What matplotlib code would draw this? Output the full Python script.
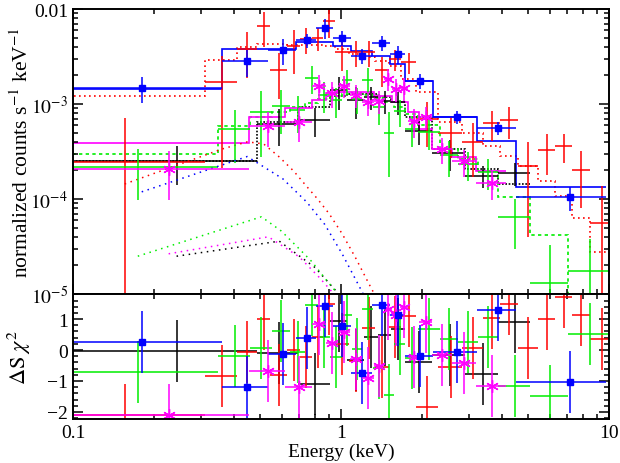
import numpy as np
import matplotlib.pyplot as plt
from matplotlib.ticker import FuncFormatter, MultipleLocator, NullFormatter

plt.rcParams['font.family'] = ['Liberation Serif', 'DejaVu Serif']
plt.rcParams['mathtext.fontset'] = 'stix'
plt.rcParams['font.size'] = 14

# ---- data (keV, counts/s/keV) ----
# black
blk_edges = [0.001, 0.486, 0.691, 0.910, 1.052, 1.218, 1.374, 1.537, 1.734, 2.186, 2.90, 3.85, 5.07]
blk_rate = [2.5e-4, 6.2e-4, 6.8e-4, 1.40e-3, 1.10e-3, 1.19e-3, 1.08e-3, 1.05e-3, 5.2e-4, 3.06e-4, 1.75e-4, 1.88e-4]
blk_err = [1.1e-4, 2.6e-4, 2.3e-4, 5.4e-4, 4e-4, 3.3e-4, 3e-4, 2.8e-4, 1.5e-4, 1.1e-4, 4.5e-5, 5e-5]
blk_model = [2.5e-4, 6.5e-4, 9.3e-4, 1.22e-3, 1.28e-3, 1.28e-3, 1.19e-3, 1.05e-3, 7.3e-4, 3.36e-4, 2.07e-4, 1.44e-4]
blk_resid = [-0.03, -0.1, -1.1, 0.94, -0.32, 0.42, 0.48, 0.68, -0.39, -0.16, -0.77, 0.9]
blk_comp = [2.5e-5, 3.6e-5, 1.9e-5, 1.0e-5, 5.5e-6]

# red
red_edges = [0.001, 0.311, 0.409, 0.486, 0.543, 0.629, 0.703, 0.779, 0.857, 0.950, 1.071, 1.197, 1.339,
             1.510, 1.674, 1.905, 2.30, 2.83, 3.39, 3.92, 4.57, 5.43, 6.29, 7.28, 8.50, 10.26]
red_rate = [2.45e-4, 1.71e-3, 3.79e-3, 6.62e-3, 2.28e-3, 4.08e-3, 4.83e-3, 4.95e-3, 7.47e-3, 3.53e-3,
            3.53e-3, 3.53e-3, 2.3e-3, 2.98e-3, 2.77e-3, 7.0e-4, 5.0e-4, 4.0e-4, 6.3e-4, 6.8e-4,
            2.2e-4, 3.3e-4, 3.6e-4, 2.0e-4, 5.6e-5]
red_err = [4.6e-4, 1.5e-3, 1.9e-3, 2.6e-3, 1.15e-3, 2.0e-3, 1.5e-3, 1.3e-3, 2.5e-3, 1.3e-3, 1.1e-3,
           1.1e-3, 8e-4, 7.5e-4, 7e-4, 3.5e-4, 2.3e-4, 2.3e-4, 2.2e-4, 2.5e-4, 1.8e-4, 1.5e-4,
           1.2e-4, 1.2e-4, 8e-5]
red_model = [1.22e-3, 2.91e-3, 3.98e-3, 4.28e-3, 4.28e-3, 4.18e-3, 4.18e-3, 4.18e-3, 4.08e-3, 3.79e-3,
             3.36e-3, 3.13e-3, 2.84e-3, 2.52e-3, 1.84e-3, 1.34e-3, 6.5e-4, 4.9e-4, 3.6e-4, 2.85e-4,
             2.2e-4, 1.55e-4, 1.08e-4, 6.3e-5, 2.8e-5]
red_resid = [-2.1, -0.84, -0.06, 1.0, -0.8, 0.0, -0.22, 0.42, 1.5, 0.2, -0.35, 0.7, -0.55, 0.74, 1.1,
             -1.84, -0.55, 0.06, 1.03, 1.48, 0.06, 1.0, 1.7, 1.13, 0.35]
red_comp = [1.44e-4, 3.36e-4, 4.0e-4, 3.8e-4, 2.8e-4, 1.97e-4, 1.38e-4, 1.0e-4, 7e-5, 4.3e-5, 2.4e-5,
            1.3e-5, 7e-6]

# green
grn_edges = [0.001, 0.348, 0.457, 0.553, 0.645, 0.734, 0.821, 0.910, 1.009, 1.099, 1.197, 1.316, 1.446,
             1.577, 1.734, 1.937, 2.34, 2.73, 3.25, 3.85, 5.07, 7.03, 10.0]
grn_rate = [2.17e-4, 5.5e-4, 8.2e-4, 9.5e-4, 8.6e-4, 1.88e-3, 1.25e-3, 1.10e-3, 1.79e-3, 1.13e-3, 1.79e-3,
            9.3e-4, 5.0e-4, 8.4e-4, 5.5e-4, 5.1e-4, 2.9e-4, 2.34e-4, 1.93e-4, 6.5e-5, 1.32e-5, 1.75e-5]
grn_err = [1.2e-4, 3.1e-4, 5.4e-4, 4.7e-4, 3.6e-4, 6.2e-4, 4.5e-4, 3.9e-4, 4.7e-4, 3.5e-4, 6e-4, 3.3e-4,
           3.3e-4, 2.7e-4, 2.0e-4, 1.8e-4, 1.2e-4, 8e-5, 7e-5, 3.5e-5, 2e-5, 2e-5]
grn_model = [3.0e-4, 5.9e-4, 7.3e-4, 8.2e-4, 9.3e-4, 1.03e-3, 1.13e-3, 1.22e-3, 1.28e-3, 1.28e-3, 1.25e-3,
             1.16e-3, 1.05e-3, 9.3e-4, 7.9e-4, 6.0e-4, 3.36e-4, 2.64e-4, 1.97e-4, 1.05e-4, 4.2e-5, 8e-6]
grn_resid = [-0.71, -0.19, 0.06, 0.61, -0.06, 1.45, 0.42, -0.23, 1.13, 0.03, 1.32, -0.58, -1.45, 0.19,
             -0.26, 0.68, 0.35, 0.26, 0.42, -1.16, -1.48, 0.52]
grn_comp = [2.5e-5, 5.3e-5, 6.5e-5, 4.6e-5, 3.1e-5, 2.2e-5, 1.5e-5, 1.05e-5, 7e-6]

# blue
blu_edges = [0.001, 0.36, 0.534, 0.68, 0.81, 0.93, 1.09, 1.31, 1.53, 1.73, 2.2, 3.22, 4.5, 9.75]
blu_rate = [1.47e-3, 2.84e-3, 3.7e-3, 4.7e-3, 6.3e-3, 4.95e-3, 3.2e-3, 4.4e-3, 3.36e-3, 1.75e-3, 7.3e-4,
            5.6e-4, 1.05e-4]
blu_err = [4.5e-4, 9e-4, 1.1e-3, 8e-4, 1.5e-3, 9e-4, 5.5e-4, 8e-4, 7e-4, 3e-4, 1.1e-4, 9e-5, 3e-5]
blu_model = [1.44e-3, 3.79e-3, 3.79e-3, 4.5e-3, 4.5e-3, 4.1e-3, 3.6e-3, 3.2e-3, 2.64e-3, 1.75e-3, 7.3e-4,
             4.1e-4, 1.34e-4]
blu_resid = [0.26, -1.2, -0.13, 0.39, 1.42, 0.77, -0.74, 1.45, 1.13, -0.2, -0.06, 1.3, -1.03]
blu_comp = [1.19e-4, 2.8e-4, 1.63e-4, 9.3e-5, 5.4e-5, 2.65e-5, 1.05e-5, 4e-6]

# magenta
mag_edges = [0.001, 0.454, 0.618, 0.779, 0.879, 0.975, 1.081, 1.197, 1.327, 1.446, 1.549, 1.660, 1.778,
             1.954, 2.186, 2.59, 3.19, 4.13]
mag_rate = [2.07e-4, 5.9e-4, 6.5e-4, 1.55e-3, 1.31e-3, 1.55e-3, 1.25e-3, 1.05e-3, 1.08e-3, 1.84e-3,
            1.44e-3, 1.47e-3, 6.6e-4, 7.3e-4, 3.36e-4, 2.5e-4, 1.48e-4]
mag_err = [1.1e-4, 2.4e-4, 2.5e-4, 4.5e-4, 4e-4, 4e-4, 3.5e-4, 3e-4, 3e-4, 4.7e-4, 4e-4, 4e-4, 2.2e-4,
           2e-4, 1e-4, 8e-5, 5e-5]
mag_model = [3.9e-4, 7.3e-4, 9.1e-4, 1.1e-3, 1.31e-3, 1.34e-3, 1.34e-3, 1.34e-3, 1.22e-3, 1.22e-3,
             1.05e-3, 1.05e-3, 8.2e-4, 5.5e-4, 3.4e-4, 2.77e-4, 1.97e-4]
mag_resid = [-2.1, -0.68, -1.19, 0.84, 0.23, 0.58, -0.29, -0.90, -0.52, 1.32, 1.13, 1.39, -0.23, 0.90,
             -0.16, -0.42, -1.16]
mag_comp = [2.65e-5, 4.0e-5, 2.46e-5, 1.5e-5, 1.05e-5, 6.5e-6]

sets = [
    ("black", blk_edges, blk_rate, blk_err, blk_model, blk_resid, blk_comp, (0, (1, 1)), None),
    ("#ff0000", red_edges, red_rate, red_err, red_model, red_resid, red_comp, (0, (1, 2)), None),
    ("#00ee00", grn_edges, grn_rate, grn_err, grn_model, grn_resid, grn_comp, (0, (2, 2)), None),
    ("#0000ff", blu_edges, blu_rate, blu_err, blu_model, blu_resid, blu_comp, "-", "s"),
    ("#ff00ff", mag_edges, mag_rate, mag_err, mag_model, mag_resid, mag_comp, "-", (6, 2, 0)),
]

fig = plt.figure(figsize=(6.2, 4.64), dpi=100)
ax1 = fig.add_axes([0.1177, 0.3642, 0.8645, 0.6142])
ax2 = fig.add_axes([0.1177, 0.0948, 0.8645, 0.2694], sharex=ax1)

for color, edges, rate, err, model, resid, comp, ls, mk in sets:
    edges = np.array(edges)
    rate = np.array(rate)
    err = np.array(err)
    cen = (edges[:-1] + edges[1:]) / 2
    hw = (edges[1:] - edges[:-1]) / 2
    lo = np.minimum(err, rate * 0.999)

    ax1.stairs(model, edges, baseline=None, color=color, ls=ls, lw=1.2)
    ax1.plot(cen[:len(comp)], comp, color=color, ls=(0, (1, 3)), lw=1.1)

    kw = dict(fmt="s", ms=4.5) if mk == "s" else dict(fmt="none")
    ax1.errorbar(cen, rate, xerr=hw, yerr=[lo, err], color=color, lw=1.1, capsize=0, **kw)
    ax2.errorbar(cen, resid, xerr=hw, yerr=1, color=color, lw=1.1, capsize=0, **kw)
    if mk is not None and mk != "s":
        # asterisk markers
        ax1.plot(cen, rate, ls="none", marker=mk, ms=9, mew=1.0, color=color)
        ax2.plot(cen, resid, ls="none", marker=mk, ms=9, mew=1.0, color=color)

ax1.set_xscale("log")
ax1.set_yscale("log")
ax1.set_xlim(0.1, 10)
ax1.set_ylim(1e-5, 1e-2)
ax2.set_ylim(-2.23, 1.81)


def yfmt(v, pos):
    if abs(v - 1e-2) < 1e-9:
        return "0.01"
    return r"$10^{%d}$" % round(np.log10(v))


ax1.yaxis.set_major_formatter(FuncFormatter(yfmt))
ax1.yaxis.set_minor_formatter(NullFormatter())
ax1.tick_params(labelbottom=False)
ax2.xaxis.set_major_formatter(FuncFormatter(lambda v, p: "%g" % v))
ax2.xaxis.set_minor_formatter(NullFormatter())
ax2.yaxis.set_major_locator(MultipleLocator(1))
ax2.yaxis.set_minor_locator(MultipleLocator(0.2))

for ax in (ax1, ax2):
    ax.tick_params(which="both", direction="in", top=True, right=True, width=1.1)
    ax.tick_params(which="major", length=7)
    ax.tick_params(which="minor", length=3.5)
    for s in ax.spines.values():
        s.set_linewidth(1.4)

ax1.set_ylabel(r"normalized counts s$^{-1}$ keV$^{-1}$", fontsize=15.5)
ax2.set_ylabel(r"$\Delta\mathrm{S}\ \chi^{2}$", fontsize=16)
ax2.set_xlabel("Energy (keV)", labelpad=1)
ax1.yaxis.set_label_coords(-0.075, 0.5)
ax2.yaxis.set_label_coords(-0.075, 0.5)

fig.savefig("out.png", dpi=100)
